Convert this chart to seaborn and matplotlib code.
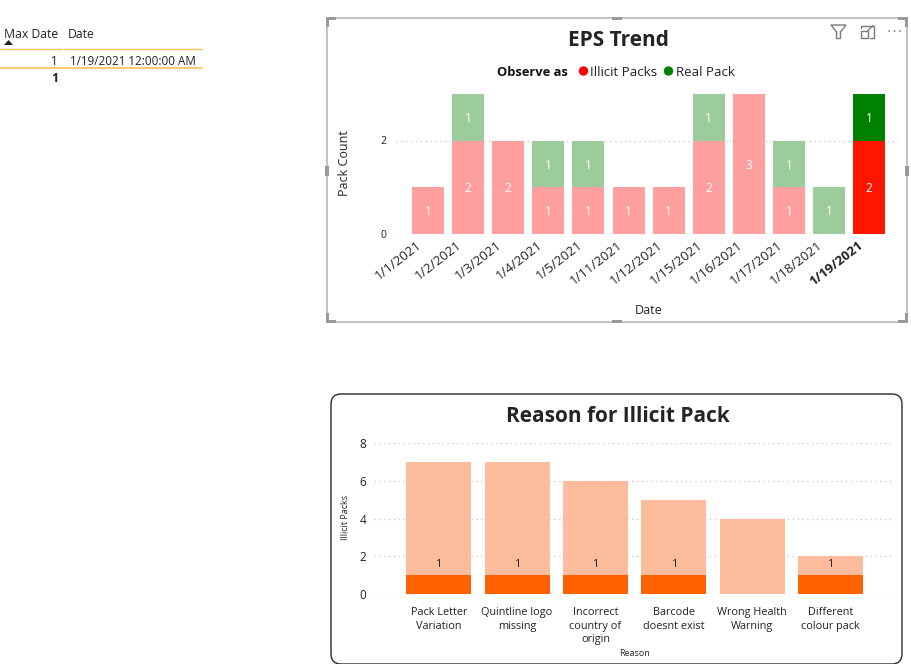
import matplotlib
matplotlib.use("Agg")
import matplotlib.pyplot as plt
from matplotlib.patches import Circle, FancyBboxPatch, Polygon, Rectangle
from matplotlib.transforms import ScaledTranslation
import numpy as np
import pandas as pd
import seaborn as sns

# ---- data ----
dates = ["1/1/2021", "1/2/2021", "1/3/2021", "1/4/2021", "1/5/2021", "1/11/2021",
         "1/12/2021", "1/15/2021", "1/16/2021", "1/17/2021", "1/18/2021", "1/19/2021"]
illicit_packs = [1, 2, 2, 1, 1, 1, 1, 2, 3, 1, 0, 2]
real_packs = [0, 1, 0, 1, 1, 0, 0, 1, 0, 1, 1, 1]
selected_date = "1/19/2021"

reasons = ["Pack Letter\nVariation", "Quintline logo\nmissing", "Incorrect\ncountry of\norigin",
           "Barcode\ndoesnt exist", "Wrong Health\nWarning", "Different\ncolour pack"]
reason_total = [7, 7, 6, 5, 4, 2]
reason_selected = [1, 1, 1, 1, 0, 1]

RED_PALE, RED = "#FF9F9F", "#FF1500"
GREEN_PALE, GREEN = "#9CCC9C", "#008000"
ORANGE_PALE, ORANGE = "#FDBC9B", "#FF6000"
INK = "#252423"
FONT = ["Open Sans", "DejaVu Sans"]
W, H = 911, 664

sns.set_theme(style="white")
plt.rcParams["font.family"] = FONT
fig = plt.figure(figsize=(W / 100, H / 100), dpi=100, facecolor="white")


def axes_px(left, top, right, bottom):
    return fig.add_axes([left / W, 1 - bottom / H, (right - left) / W, (bottom - top) / H])


def style_axes(ax):
    sns.despine(ax=ax, left=True, bottom=True, top=True, right=True)
    ax.set_facecolor("none")
    ax.set_axisbelow(True)
    ax.grid(False)
    ax.yaxis.grid(True, color="#cfcfcf", linestyle=(0, (1, 2.5)), linewidth=1)
    ax.tick_params(length=0)


# ---- top chart ----
df = pd.DataFrame({"Date": dates, "Illicit": illicit_packs, "Real": real_packs})
df["Total"] = df["Illicit"] + df["Real"]
green_colors = [GREEN if d == selected_date else GREEN_PALE for d in dates]
red_colors = [RED if d == selected_date else RED_PALE for d in dates]

ax1 = axes_px(396, 94, 898, 233.5)
sns.barplot(data=df, x="Date", y="Total", hue="Date", palette=green_colors, legend=False,
            saturation=1, width=0.8, dodge=False, linewidth=0, ax=ax1)
sns.barplot(data=df, x="Date", y="Illicit", hue="Date", palette=red_colors, legend=False,
            saturation=1, width=0.8, dodge=False, linewidth=0, ax=ax1)
style_axes(ax1)
ax1.set_xlim(-0.8, 11.72)
ax1.set_ylim(0, 3)
ax1.set_yticks([0, 2])
ax1.tick_params(axis="y", labelsize=7.5, pad=7, labelcolor="#222222")
ax1.set_xticks(range(len(dates)))
ax1.set_xticklabels(dates, rotation=38, ha="right", va="top", rotation_mode="anchor",
                    fontsize=9.5, color="#222222")
shift = ScaledTranslation(-8.5 / 72, 0, fig.dpi_scale_trans)
for lab, d in zip(ax1.get_xticklabels(), dates):
    lab.set_transform(lab.get_transform() + shift)
    if d == selected_date:
        lab.set_fontweight("bold")
ax1.set_xlabel("Date", fontsize=9, color=INK)
ax1.set_ylabel("Pack Count", fontsize=9, color=INK)
ax1.xaxis.set_label_coords((648.5 - 396) / 502, -(311 - 233.5) / 139.5)
ax1.yaxis.set_label_coords((345 - 396) / 502, 0.5 - (163 - 163.75) / 139.5)
ax1.xaxis.label.set_va("center")
ax1.yaxis.label.set_va("center")
for i, (a, b) in enumerate(zip(illicit_packs, real_packs)):
    if a:
        ax1.annotate(str(a), (i, a / 2), xytext=(0, -1.2), textcoords="offset points",
                     color="white", ha="center", va="center", fontsize=8.5)
    if b:
        ax1.annotate(str(b), (i, a + b / 2), xytext=(0, -1.2), textcoords="offset points",
                     color="white", ha="center", va="center", fontsize=8.5)

# ---- bottom chart ----
dr = pd.DataFrame({"Reason": reasons, "Total": reason_total, "Selected": reason_selected})
ax2 = axes_px(374, 443, 894, 594)
sns.barplot(data=dr, x="Reason", y="Total", color=ORANGE_PALE, saturation=1, width=0.83,
            linewidth=0, ax=ax2)
sns.barplot(data=dr, x="Reason", y="Selected", color=ORANGE, saturation=1, width=0.83,
            linewidth=0, ax=ax2)
style_axes(ax2)
ax2.set_xlim((374 - 438.7) / 78.35, (894 - 438.7) / 78.35)
ax2.set_ylim(0, 8)
ax2.set_yticks([0, 2, 4, 6, 8])
ax2.tick_params(axis="y", labelsize=8.5, pad=5.5, labelcolor="#222222")
ax2.tick_params(axis="x", pad=9.5)
ax2.set_xticks(range(len(reasons)))
ax2.set_xticklabels(reasons, fontsize=7.8, color="#222222", linespacing=1.3, ha="center", va="top")
ax2.set_xlabel("Reason", fontsize=6.5, color=INK)
ax2.set_ylabel("Illicit Packs", fontsize=6.5, color=INK)
ax2.xaxis.set_label_coords((635 - 374) / 520, -(654 - 594) / 151)
ax2.yaxis.set_label_coords((345.5 - 374) / 520, (594 - 517) / 151)
ax2.xaxis.label.set_va("center")
ax2.yaxis.label.set_va("center")
for i, v in enumerate(reason_selected):
    if v:
        ax2.annotate(str(v), (i, v), xytext=(0, 7.3), textcoords="offset points", ha="center",
                     va="center", fontsize=8, color="#222222")

# ---- page furniture, drawn in pixel coordinates ----
ov = fig.add_axes([0, 0, 1, 1], facecolor="none", zorder=5)
ov.set_xlim(0, W)
ov.set_ylim(H, 0)
ov.axis("off")

# visual frames
ov.add_patch(Rectangle((327, 18), 580, 304, fill=False, ec="#b9b9b9", lw=1.2))
for x0, y0, dx, dy in [(326, 17, 1, 1), (908, 17, -1, 1), (326, 323, 1, -1), (908, 323, -1, -1)]:
    ov.add_patch(Rectangle((min(x0, x0 + 10 * dx), y0 - (0 if dy > 0 else 3)), 10, 3, color="#9a9a9a", lw=0))
    ov.add_patch(Rectangle((x0 - (0 if dx > 0 else 3), min(y0, y0 + 10 * dy)), 3, 10, color="#9a9a9a", lw=0))
for x, y, w, h in [(612, 17, 10, 3), (612, 320, 10, 3), (325, 166, 4, 10), (905, 166, 4, 10)]:
    ov.add_patch(Rectangle((x, y), w, h, color="#9a9a9a", lw=0))
ov.add_patch(FancyBboxPatch((341, 404), 551, 250, boxstyle="round,pad=10,rounding_size=10",
                            fill=False, ec="#2a2a2a", lw=1, mutation_aspect=1, clip_on=False))

# titles
ov.text(618, 40, "EPS Trend", ha="center", va="center", fontsize=15, fontweight="bold", color=INK)
ov.text(617.5, 416, "Reason for Illicit Pack", ha="center", va="center", fontsize=15,
        fontweight="bold", color=INK)

# legend of top chart
ov.text(497, 72.5, "Observe as", ha="left", va="center", fontsize=9.3, fontweight="bold", color="#111111")
ov.add_patch(Circle((583.5, 71), 4.7, color="#FF0000", lw=0))
ov.text(590, 72.5, "Illicit Packs", ha="left", va="center", fontsize=9.6, color="#222222")
ov.add_patch(Circle((668.5, 71), 4.7, color=GREEN, lw=0))
ov.text(676.5, 72.5, "Real Pack", ha="left", va="center", fontsize=9.6, color="#222222")

# header icons
ov.add_patch(Polygon([(831, 25), (846, 25), (840.5, 32), (840.5, 38.5), (836.5, 38.5), (836.5, 32)],
                     closed=True, fill=False, ec="#7a7a7a", lw=1))
ov.add_patch(Rectangle((861, 31), 6.5, 6.5, fill=False, ec="#7a7a7a", lw=1))
ov.plot([861, 861, 873.5, 873.5, 870], [28, 25.5, 25.5, 37.5, 37.5], color="#7a7a7a", lw=1)
ov.plot([868, 873], [30.5, 25.5], color="#7a7a7a", lw=1)
for x in [889, 894.5, 900]:
    ov.add_patch(Circle((x, 31), 0.9, color="#7a7a7a", lw=0))

# table
ov.text(4, 34, "Max Date", ha="left", va="center", fontsize=8.8, color="#252423")
ov.text(68, 34, "Date", ha="left", va="center", fontsize=8.8, color="#252423")
ov.add_patch(Polygon([(4, 45), (13, 45), (8.5, 40)], closed=True, color="#222222", lw=0))
ov.plot([0, 62], [48.5, 48.5], color="#F5C35B", lw=1)
ov.plot([64, 202], [48.5, 48.5], color="#F5C35B", lw=1)
ov.plot([0, 202], [67.5, 67.5], color="#F5C35B", lw=1.2)
ov.text(58, 61.5, "1", ha="right", va="center", fontsize=8.4, color="#252423")
ov.text(69.5, 61.5, "1/19/2021 12:00:00 AM", ha="left", va="center", fontsize=8.4, color="#252423")
ov.text(58, 78, "1", ha="right", va="center", fontsize=9, fontweight="bold", color="#252423")

fig.savefig("out.png", dpi=100, facecolor="white")
